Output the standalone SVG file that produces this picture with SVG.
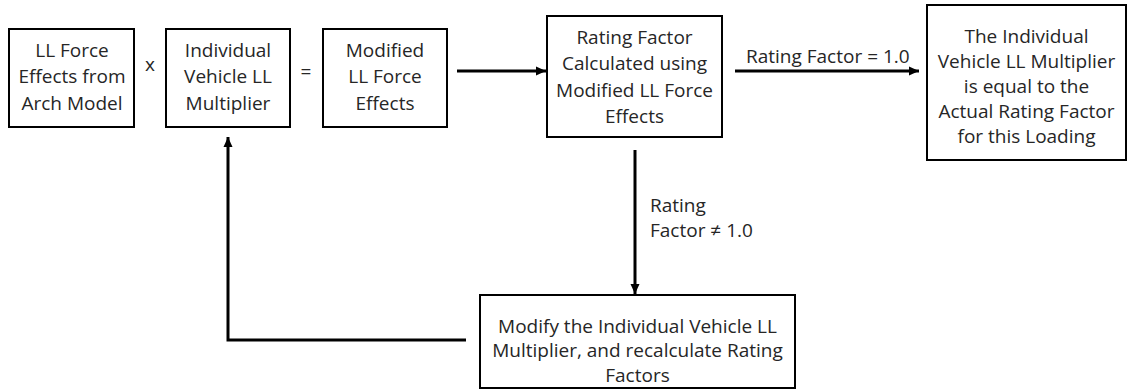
<svg xmlns="http://www.w3.org/2000/svg" width="1128" height="390" viewBox="0 0 1128 390">
  <defs>
    <style>
      .box { fill: #ffffff; stroke: #000000; stroke-width: 2; }
      .t { font-family: "Open Sans", "Liberation Sans", sans-serif; font-size: 19px; fill: #262626; text-anchor: middle; }
      .lbl { font-family: "Open Sans", "Liberation Sans", sans-serif; font-size: 19px; fill: #262626; }
      .conn { fill: none; stroke: #000000; stroke-width: 3; }
    </style>
    <marker id="arrow" markerUnits="userSpaceOnUse" markerWidth="11" markerHeight="10" refX="10" refY="5" orient="auto">
      <path d="M0,0.5 L10,5 L0,9.5 z" fill="#000000"/>
    </marker>
  </defs>
  <rect width="1128" height="390" fill="#ffffff"/>

  <g id="connectors">
    <line class="conn" x1="457" y1="71" x2="546" y2="71" marker-end="url(#arrow)"/>
    <line class="conn" x1="735" y1="71" x2="919" y2="71" marker-end="url(#arrow)"/>
    <line class="conn" x1="635" y1="150" x2="635" y2="294" marker-end="url(#arrow)"/>
    <polyline class="conn" points="466,340 228,340 228,137" marker-end="url(#arrow)"/>
    <text class="lbl" x="746" y="63">Rating Factor = 1.0</text>
    <text class="lbl" x="650" y="212">Rating</text>
    <text class="lbl" x="650" y="237">Factor ≠ 1.0</text>
  </g>

  <g id="operator-times">
    <text class="t" x="150" y="71">x</text>
  </g>
  <g id="operator-equals">
    <text class="t" x="306" y="78">=</text>
  </g>

  <g id="node-ll-force-effects">
    <rect class="box" x="9" y="29" width="125" height="98"/>
    <text class="t" x="72" y="57">LL Force</text>
    <text class="t" x="72" y="83">Effects from</text>
    <text class="t" x="72" y="110">Arch Model</text>
  </g>

  <g id="node-multiplier">
    <rect class="box" x="166" y="29" width="124" height="98"/>
    <text class="t" x="228" y="57">Individual</text>
    <text class="t" x="228" y="83">Vehicle LL</text>
    <text class="t" x="228" y="110">Multiplier</text>
  </g>

  <g id="node-modified">
    <rect class="box" x="323" y="29" width="124" height="98"/>
    <text class="t" x="385" y="57">Modified</text>
    <text class="t" x="385" y="83">LL Force</text>
    <text class="t" x="385" y="110">Effects</text>
  </g>

  <g id="node-rating-factor">
    <rect class="box" x="547" y="16" width="175" height="121"/>
    <text class="t" x="634.5" y="43.5">Rating Factor</text>
    <text class="t" x="634.5" y="70">Calculated using</text>
    <text class="t" x="634.5" y="96.5">Modified LL Force</text>
    <text class="t" x="634.5" y="123">Effects</text>
  </g>

  <g id="node-result">
    <rect class="box" x="927" y="5" width="199" height="155"/>
    <text class="t" x="1026.5" y="43">The Individual</text>
    <text class="t" x="1026.5" y="68">Vehicle LL Multiplier</text>
    <text class="t" x="1026.5" y="93">is equal to the</text>
    <text class="t" x="1026.5" y="118">Actual Rating Factor</text>
    <text class="t" x="1026.5" y="143">for this Loading</text>
  </g>

  <g id="node-modify">
    <rect class="box" x="480" y="295" width="315" height="93"/>
    <text class="t" x="637.5" y="333">Modify the Individual Vehicle LL</text>
    <text class="t" x="637.5" y="357">Multiplier, and recalculate Rating</text>
    <text class="t" x="637.5" y="382">Factors</text>
  </g>
</svg>
